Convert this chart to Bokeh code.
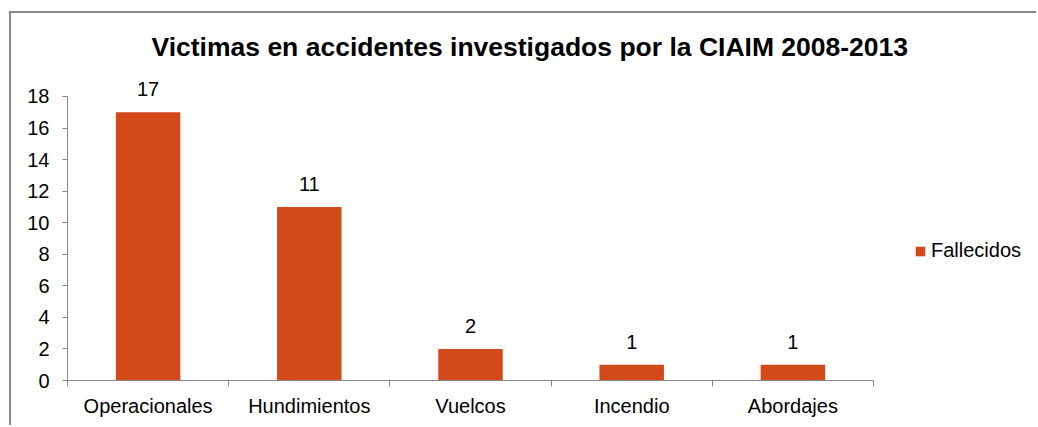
from bokeh.plotting import figure
from bokeh.models import (ColumnDataSource, FixedTicker, LabelSet, Legend, LegendItem,
                          Range1d)
from bokeh.core.properties import value
from bokeh.embed import file_html
from bokeh.resources import INLINE

categories = ["Operacionales", "Hundimientos", "Vuelcos", "Incendio", "Abordajes"]
fallecidos = [17, 11, 2, 1, 1]
y_ticks = [0, 2, 4, 6, 8, 10, 12, 14, 16, 18]
series_name = "Fallecidos"
title_text = "Victimas en accidentes investigados por la CIAIM 2008-2013"

BAR = "#D24A19"
AXIS = "#868686"
FONT = "Liberation Sans"

n = len(categories)
xs = [i + 0.5 for i in range(n)]
src = ColumnDataSource(dict(x=xs, y=fallecidos, lbl=[str(v) for v in fallecidos], cat=categories))

p = figure(width=1027, height=414, output_backend="svg", toolbar_location=None,
           x_range=Range1d(0, n * 971 / 806), y_range=Range1d(0, 19.52),
           min_border_left=56, min_border_right=0, min_border_top=59, min_border_bottom=47,
           title=title_text)
p.styles = {"border-top": "2px solid #8a8a8a", "border-left": "2px solid #8a8a8a",
            "margin-top": "11px", "margin-left": "9px"}
p.outline_line_color = None
p.grid.visible = False
p.background_fill_color = "white"
p.border_fill_color = "white"

r = p.vbar(x="x", top="y", width=0.4, source=src, fill_color=BAR, line_color=None)

# title
p.title.text_font = FONT
p.title.text_font_size = "26.5px"
p.title.text_font_style = "bold"
p.title.text_color = "black"
p.title.align = "left"
p.title.offset = 84
p.title.standoff = 21

# x axis
xa = p.xaxis[0]
xa.bounds = (0, n)
xa.ticker = FixedTicker(ticks=xs, minor_ticks=list(range(n + 1)))
xa.major_label_overrides = {x: c for x, c in zip(xs, categories)}
xa.major_tick_in = 0
xa.major_tick_out = 0
xa.minor_tick_in = 0
xa.minor_tick_out = 6
xa.minor_tick_line_color = AXIS
xa.axis_line_color = AXIS
xa.major_label_text_font = FONT
xa.major_label_text_font_size = "20px"
xa.major_label_text_color = "black"
xa.major_label_standoff = 8

# y axis
ya = p.yaxis[0]
ya.ticker = FixedTicker(ticks=y_ticks)
ya.bounds = (0, 18)
ya.major_tick_in = 0
ya.major_tick_out = 5
ya.minor_tick_out = 0
ya.minor_tick_in = 0
ya.major_tick_line_color = AXIS
ya.axis_line_color = AXIS
ya.major_label_text_font = FONT
ya.major_label_text_font_size = "20px"
ya.major_label_text_color = "black"
ya.major_label_standoff = 13

labels = LabelSet(x="x", y="y", text="lbl", source=src, y_offset=16,
                  text_align="center", text_baseline="alphabetic",
                  text_font=value(FONT), text_font_size=value("20px"), text_color="black")
p.add_layout(labels)

legend = Legend(items=[LegendItem(label=series_name, renderers=[r])],
                location=(847, 118), orientation="vertical",
                glyph_width=12, glyph_height=12, label_height=12, label_standoff=5,
                padding=0, margin=0, spacing=0,
                border_line_color=None, background_fill_alpha=0,
                label_text_font=FONT, label_text_font_size="20px", label_text_color="black")
p.add_layout(legend, "center")

open("out.html", "w").write(file_html(p, INLINE))
